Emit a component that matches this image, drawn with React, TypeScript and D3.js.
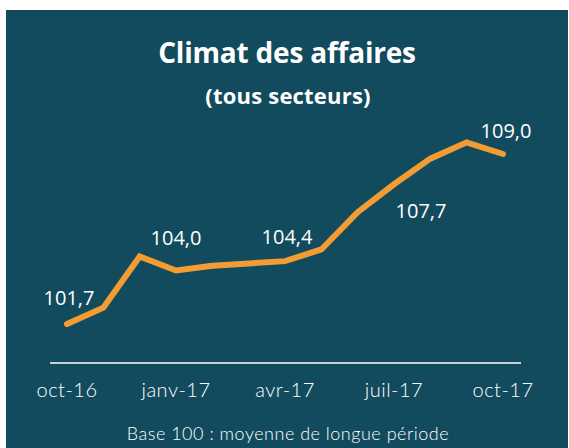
import React from "react";
import * as d3 from "d3";

const months = ["oct-16","nov-16","déc-16","janv-17","févr-17","mars-17","avr-17","mai-17","juin-17","juil-17","août-17","sept-17","oct-17"];
const values = [101.7, 102.4, 104.6, 104.0, 104.2, 104.3, 104.4, 104.9, 106.5, 107.7, 108.8, 109.5, 109.0];
const tickLabels = ["oct-16", "janv-17", "avr-17", "juil-17", "oct-17"];
const labelled = [
  { month: "oct-16", text: "101,7", dx: 2, dy: -19 },
  { month: "janv-17", text: "104,0", dx: 0, dy: -25 },
  { month: "avr-17", text: "104,4", dx: 2, dy: -17 },
  { month: "juil-17", text: "107,7", dx: 27, dy: 34 },
  { month: "oct-17", text: "109,0", dx: 3, dy: -16 },
];

const W = 569, H = 448;
const BG = "#134b5e";
const ORANGE = "#f39c33";

export default function App() {
  const x = d3.scalePoint<string>().domain(months).range([67, 503]);
  const y = d3.scaleLinear().domain([101.7, 109.0]).range([324, 154]);
  const line = d3.line<number>().x((_, i) => x(months[i])!).y((v) => y(v));
  const titleFont = "'Open Sans', Lato, sans-serif";
  const light = "Lato, 'Open Sans', sans-serif";
  return (
    <svg width={W} height={H} style={{ position: "absolute", left: 0, top: 0 }}>
      <rect x={0} y={0} width={W} height={H} fill="#ffffff" />
      <rect x={6} y={10} width={W - 7} height={H - 10} fill={BG} />
      <text x={287} y={63} textAnchor="middle" fill="#fff" fontFamily={titleFont} fontWeight={700} fontSize={28} letterSpacing={-0.2}>Climat des affaires</text>
      <text x={288} y={104} textAnchor="middle" fill="#fff" fontFamily={titleFont} fontWeight={700} fontSize={22} letterSpacing={0.2}>(tous secteurs)</text>
      <line x1={50} x2={521} y1={363} y2={363} stroke="#c7d0d3" strokeWidth={2} />
      <path d={line(values)!} fill="none" stroke={ORANGE} strokeWidth={6} strokeLinecap="round" strokeLinejoin="miter" />
      {labelled.map((l) => {
        const i = months.indexOf(l.month);
        return (
          <text key={l.month} x={x(l.month)! + l.dx} y={y(values[i]) + l.dy} textAnchor="middle" fill="#fff" fontFamily="'Open Sans', sans-serif" fontSize={20}>{l.text}</text>
        );
      })}
      {tickLabels.map((t) => (
        <text key={t} x={x(t)!} y={397} textAnchor="middle" fill="#fff" fontFamily={light} fontWeight={300} fontSize={20} letterSpacing={0.5}>{t}</text>
      ))}
      <text x={288} y={440} textAnchor="middle" fill="#fff" fontFamily={light} fontWeight={300} fontSize={18} letterSpacing={0.5}>Base 100 : moyenne de longue période</text>
    </svg>
  );
}
